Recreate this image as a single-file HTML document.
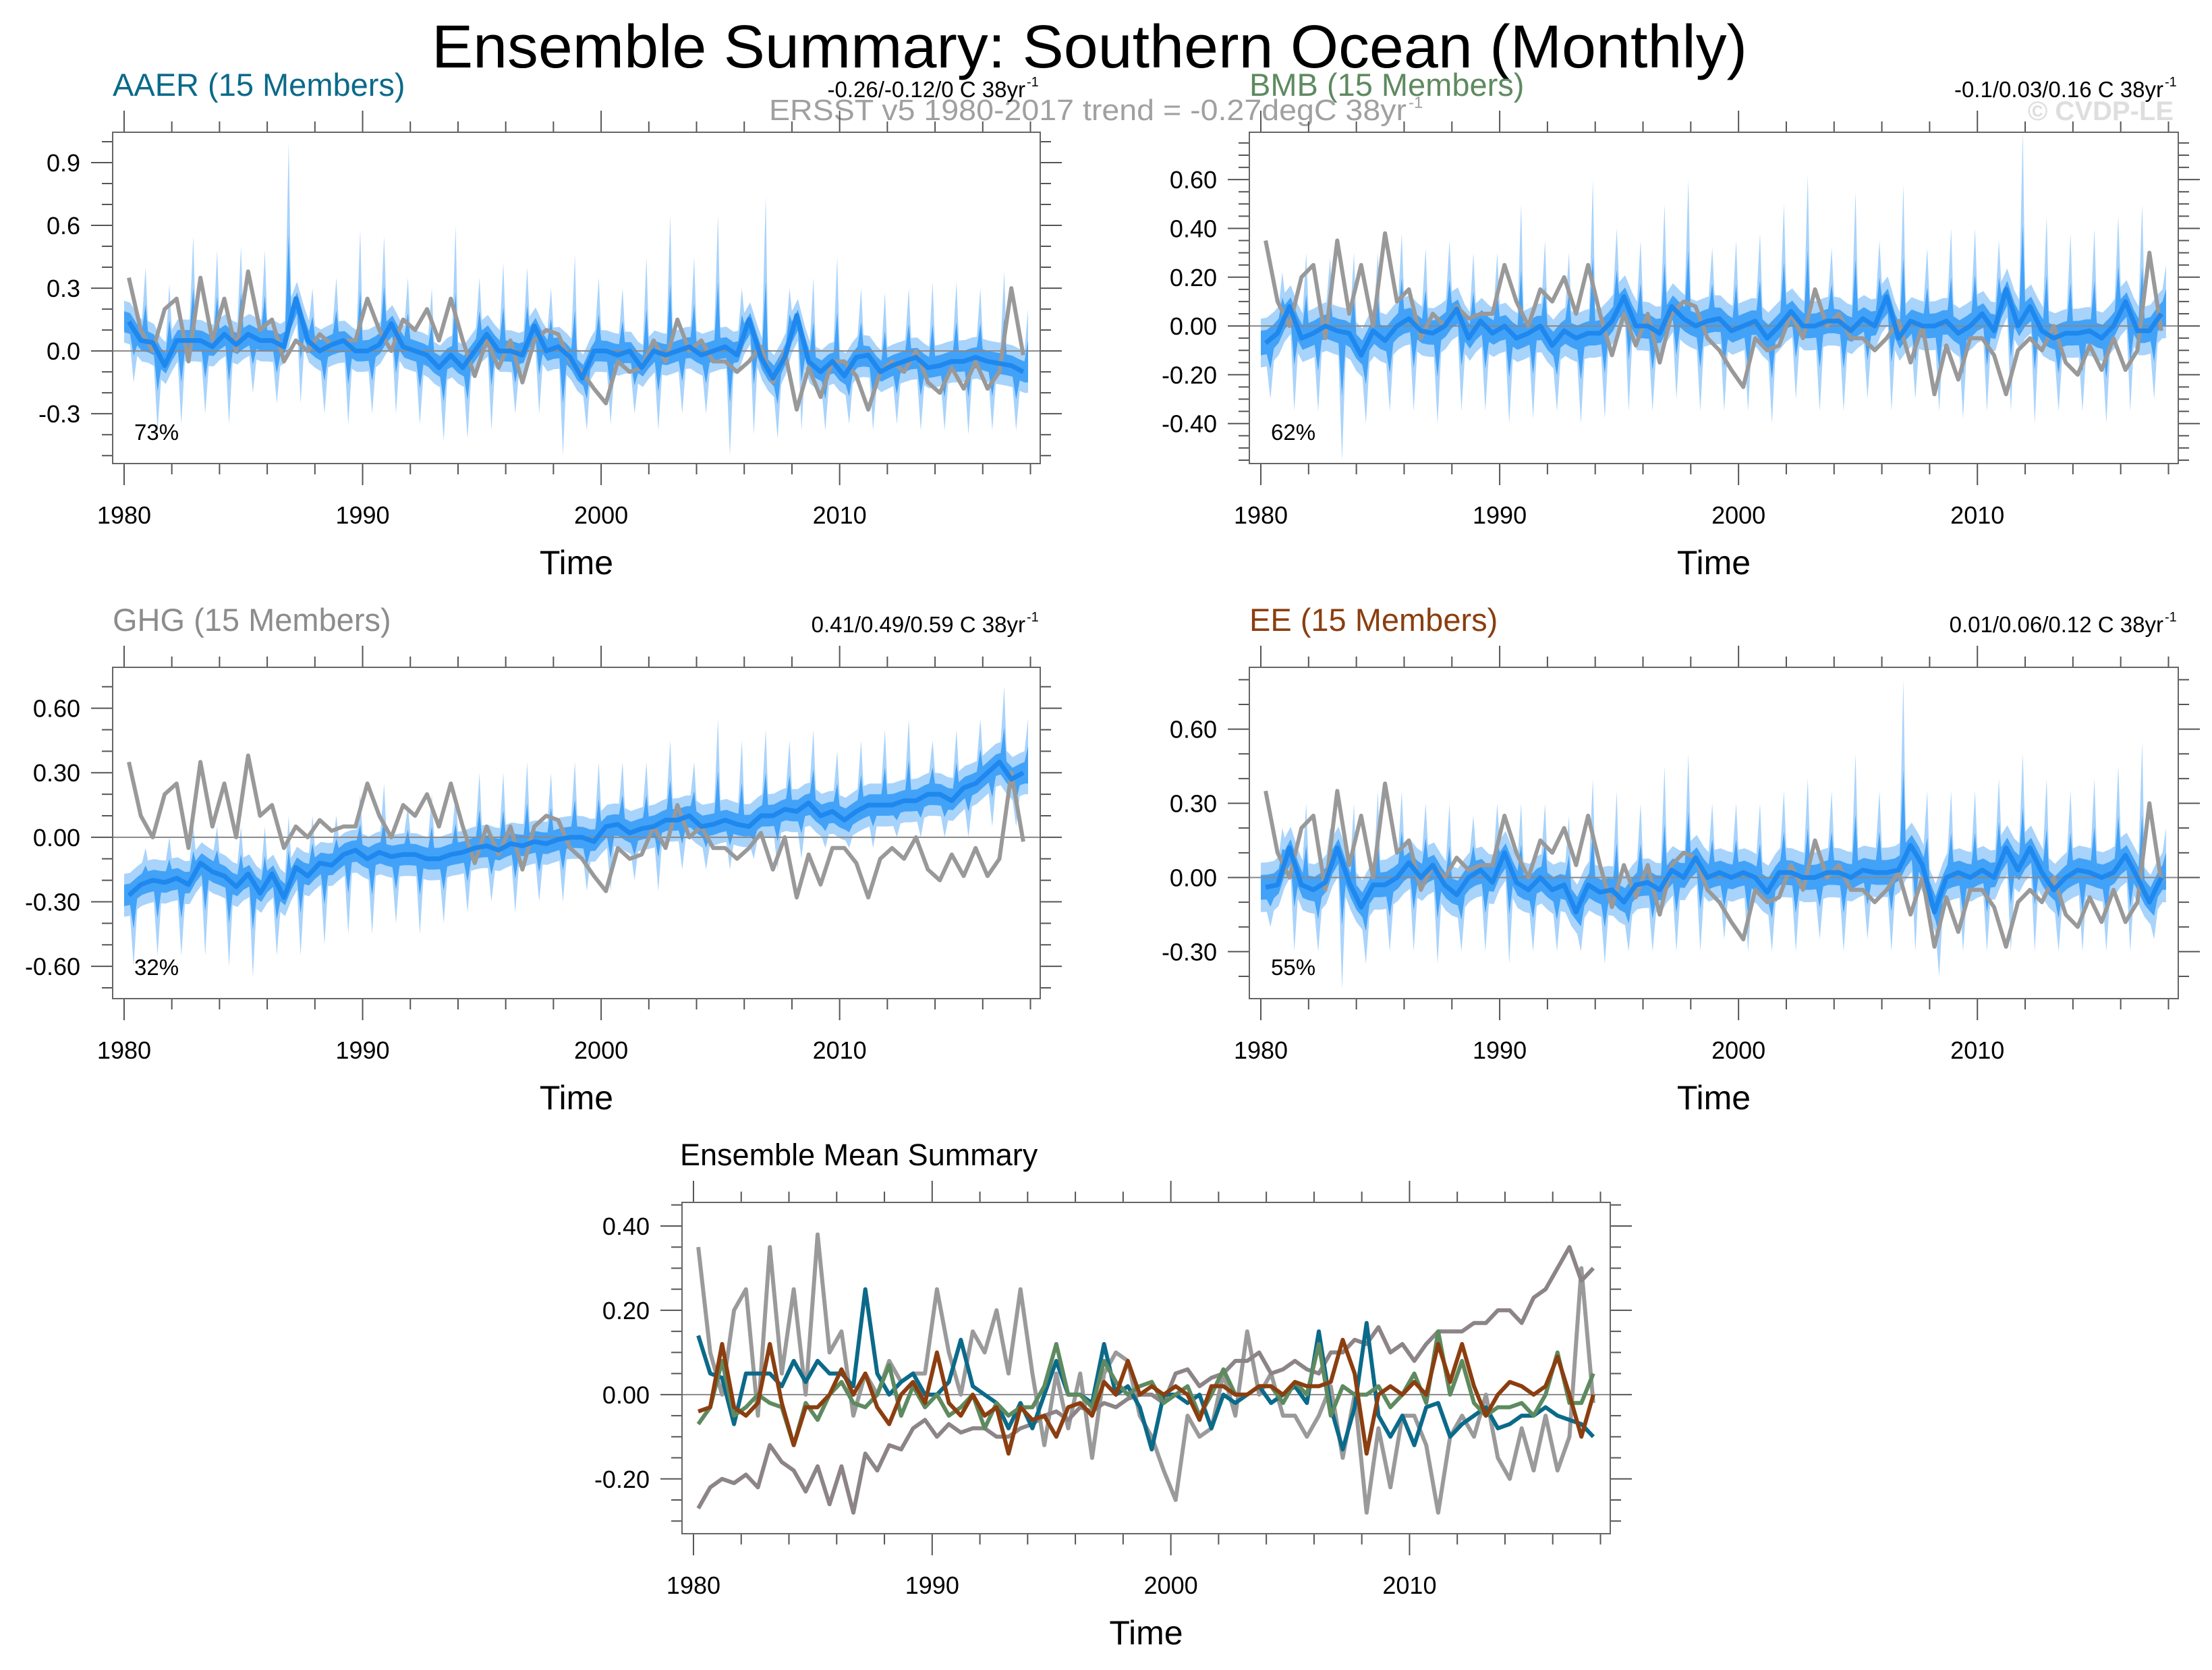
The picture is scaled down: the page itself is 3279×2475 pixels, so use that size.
<!DOCTYPE html>
<html><head><meta charset="utf-8"><style>
html,body{margin:0;padding:0;background:#fff}
svg{display:block;font-family:"Liberation Sans",sans-serif}
</style></head><body>
<svg id="chart" xmlns="http://www.w3.org/2000/svg" width="3279" height="2475" viewBox="0 0 3279 2475">
<rect width="3279" height="2475" fill="#fff"/>
<text x="640" y="100" font-size="90" textLength="1950" lengthAdjust="spacingAndGlyphs">Ensemble Summary: Southern Ocean (Monthly)</text>
<text x="1140" y="178" font-size="44" fill="#a0a0a0" textLength="945" lengthAdjust="spacingAndGlyphs">ERSST v5 1980-2017 trend = -0.27degC 38yr</text>
<text x="2088" y="160" font-size="24" fill="#a0a0a0">-1</text>
<text x="3222" y="178" font-size="40" font-weight="bold" fill="#dedede" text-anchor="end">© CVDP-LE</text>
<g id="panels"></g>
</svg>
<script>
// ---------- data (half-year samples, 1980-2017) ----------
const obsVals = [0.35,0.10,0.00,0.20,0.25,-0.05,0.35,0.05,0.25,0.00,0.38,0.10,0.15,-0.05,0.05,0.00,0.08,0.03,0.05,0.05,
0.25,0.10,0.00,0.15,0.10,0.20,0.05,0.25,0.05,-0.12,0.05,-0.08,0.05,-0.15,0.05,0.10,0.08,-0.05,-0.10,-0.18,
-0.25,-0.05,-0.10,-0.08,0.05,-0.05,0.15,0.00,0.05,-0.05,-0.05,-0.10,-0.05,0.02,-0.15,0.00,-0.28,-0.08,-0.22,-0.05,
-0.05,-0.12,-0.28,-0.10,-0.05,-0.10,0.00,-0.15,-0.20,-0.08,-0.18,-0.05,-0.18,-0.10,0.30,-0.02];
const aaerMean = [0.14,0.05,0.04,-0.07,0.05,0.05,0.05,0.02,0.08,0.03,0.08,0.05,0.05,0.02,0.25,0.05,0.00,0.03,0.05,0.00,
0.00,0.03,0.13,0.02,0.00,-0.02,-0.08,-0.02,-0.08,0.00,0.08,0.00,0.00,-0.02,0.12,0.00,0.02,-0.03,-0.13,0.00,
0.00,-0.02,0.00,-0.08,0.00,-0.02,0.00,0.02,-0.02,0.00,0.02,-0.02,0.15,-0.03,-0.13,-0.03,0.17,-0.05,-0.10,-0.05,
-0.12,-0.03,-0.02,-0.10,-0.07,-0.05,-0.03,-0.08,-0.07,-0.05,-0.05,-0.03,-0.05,-0.06,-0.07,-0.10];
const bmbMean = [-0.07,-0.03,0.08,-0.05,-0.03,0.00,-0.02,-0.03,-0.12,-0.02,-0.06,0.00,0.03,-0.02,-0.03,0.00,0.07,-0.05,0.02,-0.03,
0.00,-0.05,-0.03,0.00,-0.08,-0.02,-0.05,-0.03,-0.03,0.02,0.12,0.00,0.00,-0.03,0.08,0.03,0.00,0.02,0.03,-0.02,
0.00,0.02,-0.05,0.00,0.06,0.00,0.00,0.02,0.02,-0.02,0.03,0.00,0.12,-0.05,0.02,0.00,0.00,0.02,-0.03,0.00,
0.05,-0.02,0.15,0.00,0.08,-0.02,-0.05,-0.03,-0.03,-0.02,-0.05,0.00,0.10,-0.02,-0.02,0.05];
const ghgMean = [-0.27,-0.22,-0.20,-0.21,-0.19,-0.22,-0.12,-0.16,-0.18,-0.23,-0.17,-0.26,-0.17,-0.28,-0.14,-0.18,-0.12,-0.13,-0.08,-0.06,
-0.10,-0.07,-0.09,-0.08,-0.08,-0.10,-0.10,-0.08,-0.07,-0.05,-0.04,-0.06,-0.03,-0.04,-0.02,-0.03,-0.01,0.00,0.00,-0.02,
0.05,0.06,0.02,0.04,0.05,0.08,0.08,0.10,0.05,0.06,0.08,0.06,0.05,0.10,0.10,0.13,0.12,0.16,0.10,0.12,
0.08,0.12,0.15,0.15,0.15,0.17,0.17,0.20,0.20,0.17,0.23,0.25,0.30,0.35,0.27,0.30];
const eeMean = [-0.04,-0.03,0.12,-0.03,-0.05,-0.02,0.12,-0.02,-0.12,-0.03,-0.03,0.00,0.06,0.00,0.05,-0.03,-0.07,0.00,0.03,-0.02,
0.10,-0.02,-0.05,0.00,-0.05,-0.03,-0.14,-0.03,-0.06,-0.05,-0.10,-0.03,-0.02,-0.05,0.03,0.00,0.08,0.00,0.02,0.00,
0.02,0.00,-0.06,0.02,0.02,0.00,0.00,0.02,0.02,0.00,0.03,0.02,0.02,0.03,0.13,0.05,-0.14,0.00,0.02,0.00,
0.03,0.00,0.12,0.03,0.12,0.02,-0.05,0.00,0.03,0.02,0.00,0.02,0.09,0.00,-0.10,0.00];
// yearly spread spikes (outer envelope)
const aaerUp = [0.40,0.32,0.55,0.48,0.50,0.48,1.00,0.30,0.35,0.58,0.55,0.35,0.30,0.60,0.35,0.42,0.40,0.30,0.46,0.35,0.30,0.45,0.65,0.45,0.65,0.30,0.74,0.30,0.35,0.45,0.30,0.28,0.30,0.33,0.33,0.30,0.38,0.20];
const aaerDn = [-0.15,-0.38,-0.35,-0.30,-0.35,-0.20,-0.25,-0.25,-0.30,-0.35,-0.30,-0.30,-0.35,-0.43,-0.42,-0.38,-0.30,-0.30,-0.50,-0.38,-0.35,-0.30,-0.38,-0.30,-0.30,-0.50,-0.40,-0.42,-0.38,-0.38,-0.35,-0.38,-0.35,-0.38,-0.38,-0.40,-0.38,-0.38];
const bmbUp = [0.22,0.30,0.28,0.30,0.30,0.38,0.32,0.35,0.30,0.30,0.50,0.35,0.30,0.60,0.40,0.35,0.50,0.60,0.32,0.35,0.38,0.50,0.62,0.32,0.55,0.35,0.58,0.32,0.40,0.40,0.35,0.80,0.45,0.38,0.40,0.45,0.50,0.25];
const bmbDn = [-0.30,-0.35,-0.35,-0.55,-0.40,-0.35,-0.35,-0.40,-0.35,-0.35,-0.40,-0.38,-0.35,-0.40,-0.38,-0.35,-0.35,-0.30,-0.35,-0.35,-0.35,-0.40,-0.30,-0.35,-0.35,-0.30,-0.35,-0.30,-0.35,-0.38,-0.35,-0.35,-0.40,-0.35,-0.35,-0.40,-0.35,-0.30];
const ghgUp = [-0.05,0.00,0.05,0.05,0.05,0.05,0.10,0.10,0.10,0.20,0.25,0.15,0.20,0.20,0.30,0.30,0.35,0.30,0.35,0.35,0.35,0.35,0.45,0.35,0.55,0.45,0.50,0.45,0.50,0.40,0.45,0.50,0.55,0.45,0.50,0.55,0.70,0.55];
const ghgDn = [-0.60,-0.55,-0.55,-0.55,-0.60,-0.65,-0.55,-0.55,-0.50,-0.45,-0.45,-0.40,-0.45,-0.40,-0.35,-0.30,-0.35,-0.30,-0.30,-0.25,-0.25,-0.20,-0.25,-0.15,-0.15,-0.15,-0.10,-0.15,-0.10,-0.05,-0.05,-0.05,0.00,0.00,0.00,0.00,0.05,0.05];
const eeUp = [0.20,0.30,0.20,0.30,0.35,0.35,0.30,0.30,0.25,0.30,0.30,0.30,0.25,0.40,0.35,0.30,0.45,0.50,0.30,0.30,0.30,0.35,0.40,0.35,0.50,0.35,0.80,0.35,0.35,0.35,0.40,0.50,0.40,0.35,0.40,0.45,0.55,0.20];
const eeDn = [-0.20,-0.30,-0.30,-0.45,-0.35,-0.30,-0.30,-0.35,-0.30,-0.30,-0.35,-0.30,-0.30,-0.30,-0.35,-0.30,-0.30,-0.30,-0.30,-0.25,-0.30,-0.30,-0.30,-0.25,-0.30,-0.25,-0.30,-0.30,-0.40,-0.30,-0.30,-0.30,-0.30,-0.30,-0.30,-0.30,-0.30,-0.25];
const xTickLabels = ["1980","1990","2000","2010"];
const panelNames = ["AAER","BMB","GHG","EE"];
const trendText = ["-0.26/-0.12/0 C 38yr","-0.1/0.03/0.16 C 38yr","0.41/0.49/0.59 C 38yr","0.01/0.06/0.12 C 38yr"];
const pctText = ["73%","62%","32%","55%"];

// ---------- rendering ----------
const NS="http://www.w3.org/2000/svg";
const root=document.getElementById('panels');
function mk(tag,attrs,parent){const e=document.createElementNS(NS,tag);for(const k in attrs)e.setAttribute(k,attrs[k]);(parent||root).appendChild(e);return e;}
const halfT=i=>1980.2+i*0.5;
function interp(arr,t){let f=(t-1980.2)/0.5;if(f<=0)return arr[0];if(f>=arr.length-1)return arr[arr.length-1];const i=Math.floor(f),r=f-i;return arr[i]*(1-r)+arr[i+1]*r;}

const cfgs=[
 {x0:167,x1:1542,y0:196,y1:687,ymin:-0.538,ymax:1.045,majors:[0.9,0.6,0.3,0,-0.3],minor:0.1,dec:1,mean:aaerMean,up:aaerUp,dn:aaerDn,color:"#0b6a8a",ty:142},
 {x0:1852,x1:3229,y0:196,y1:687,ymin:-0.564,ymax:0.794,majors:[0.6,0.4,0.2,0,-0.2,-0.4],minor:0.05,dec:2,mean:bmbMean,up:bmbUp,dn:bmbDn,color:"#5e8a60",ty:142},
 {x0:167,x1:1542,y0:989,y1:1480,ymin:-0.75,ymax:0.79,majors:[0.6,0.3,0,-0.3,-0.6],minor:0.1,dec:2,mean:ghgMean,up:ghgUp,dn:ghgDn,color:"#8c8c8c",ty:935},
 {x0:1852,x1:3229,y0:989,y1:1480,ymin:-0.49,ymax:0.85,majors:[0.6,0.3,0,-0.3],minor:0.1,dec:2,mean:eeMean,up:eeUp,dn:eeDn,color:"#8b3e0f",ty:935}
];
const XMIN=1979.52,XMAX=2018.41;

function axes(g,c,name){
 const X=t=>c.x0+(t-XMIN)/(XMAX-XMIN)*(c.x1-c.x0);
 const Y=v=>c.y1-(v-c.ymin)/(c.ymax-c.ymin)*(c.y1-c.y0);
 c.X=X;c.Y=Y;
 let d="";
 for(let y=1980;y<=2018;y+=2){const maj=(y%10===0),L=maj?32:16,x=X(y);d+=`M${x},${c.y0}V${c.y0-L}M${x},${c.y1}V${c.y1+L}`;}
 const n0=Math.ceil(c.ymin/c.minor-1e-6),n1=Math.floor(c.ymax/c.minor+1e-6);
 for(let n=n0;n<=n1;n++){const v=n*c.minor,maj=c.majors.some(m=>Math.abs(m-v)<1e-6),L=maj?32:16,y=Y(v);d+=`M${c.x0},${y}H${c.x0-L}M${c.x1},${y}H${c.x1+L}`;}
 const tk=mk('path',{d,stroke:"#555","stroke-width":2,fill:"none"},g);
 
 
 xTickLabels.forEach(s=>{const t=mk('text',{x:X(+s),y:c.y1+89,"font-size":36,"text-anchor":"middle"},g);t.textContent=s;
  
  });
 c.majors.forEach(v=>{const t=mk('text',{x:c.x0-48,y:Y(v)+13,"font-size":36,"text-anchor":"end"},g);t.textContent=v.toFixed(c.dec);
  
  });
 const xt=mk('text',{x:(c.x0+c.x1)/2,y:c.y1+164,"font-size":50,"text-anchor":"middle"},g);xt.textContent="Time";
 
 
}
function linePath(arr,c){return arr.map((v,i)=>(i?"L":"M")+c.X(halfT(i)).toFixed(1)+","+c.Y(v).toFixed(1)).join("");}

cfgs.forEach((c,pi)=>{
 const name=panelNames[pi].toLowerCase()+'-panel';
 const g=mk('g',{});
 
 
 axes(g,c,name);
 const clip=mk('clipPath',{id:'clip'+pi},g);mk('rect',{x:c.x0,y:c.y0,width:c.x1-c.x0,height:c.y1-c.y0},clip);
 const pg=mk('g',{"clip-path":`url(#clip${pi})`},g);
 const ts=[],hiO=[],loO=[],hiI=[],loI=[];
 const S=0.1;
 c.up.forEach((u,j)=>{const y=1980+j;
  [[0.0,'n'],[0.25,'n'],[0.4,'d'],[0.55,'n'],[0.75,'n'],[0.9,'u']].forEach(([o,k])=>{const t=Math.min(y+o,2017.95),m=interp(c.mean,t);
   let h=m+S,l=m-S;if(k==='u')h=u;if(k==='d')l=c.dn[j];
   ts.push(t);hiO.push(h);loO.push(l);hiI.push(m+(h-m)*0.5);loI.push(m+(l-m)*0.5);});});
 const band=(hi,lo)=>{let d="";ts.forEach((t,i)=>d+=(i?"L":"M")+c.X(t).toFixed(1)+","+c.Y(hi[i]).toFixed(1));for(let i=ts.length-1;i>=0;i--)d+="L"+c.X(ts[i]).toFixed(1)+","+c.Y(lo[i]).toFixed(1);return d+"Z";};
 const bo=mk('path',{d:band(hiO,loO),fill:"#a8d3fb"},pg);
 
 
 const bi=mk('path',{d:band(hiI,loI),fill:"#42a2f8"},pg);
 
 
 mk('line',{x1:c.x0,x2:c.x1,y1:c.Y(0),y2:c.Y(0),stroke:"#888","stroke-width":2},pg);
 const ob=mk('path',{d:linePath(obsVals,c),fill:"none",stroke:"#999","stroke-width":6,"stroke-linejoin":"round"},pg);
 
 
 const ml=mk('path',{d:linePath(c.mean,c),fill:"none",stroke:"#1e88ee","stroke-width":7,"stroke-linejoin":"round"},pg);
 
 
 const bx=mk('rect',{x:c.x0,y:c.y0,width:c.x1-c.x0,height:c.y1-c.y0,fill:"none",stroke:"#666","stroke-width":2},g);
 
 
 const tt=mk('text',{x:c.x0,y:c.ty,"font-size":47,fill:c.color},g);tt.textContent=panelNames[pi]+" (15 Members)";
 
 
 const tr=mk('text',{x:c.x1-22,y:c.ty+2,"font-size":33,"text-anchor":"end"},g);tr.textContent=trendText[pi];
 
 
 const sp=mk('text',{x:c.x1-20,y:c.ty-14,"font-size":20},g);sp.textContent="-1";
 
 
 const pc=mk('text',{x:c.x0+32,y:c.y1-35,"font-size":33},g);pc.textContent=pctText[pi];
 
 
});

const s={x0:1011,x1:2387,y0:1782,y1:2273,ymin:-0.33,ymax:0.456,majors:[0.4,0.2,0,-0.2],minor:0.05,dec:2};
const sg=mk('g',{});


axes(sg,s,'summary');
const st=mk('text',{x:1008,y:1727,"font-size":45},sg);st.textContent="Ensemble Mean Summary";


mk('line',{x1:s.x0,x2:s.x1,y1:s.Y(0),y2:s.Y(0),stroke:"#888","stroke-width":2},sg);
const series=[[obsVals,"#9a9a9a","obs"],[ghgMean,"#8c8487","ghg"],[aaerMean,"#0b6a8a","aaer"],[bmbMean,"#5e8a60","bmb"],[eeMean,"#8b3e0f","ee"]];
series.forEach(([arr,col,nm])=>{const p=mk('path',{d:linePath(arr,s),fill:"none",stroke:col,"stroke-width":6,"stroke-linejoin":"round"},sg);
 
 });
const sb=mk('rect',{x:s.x0,y:s.y0,width:s.x1-s.x0,height:s.y1-s.y0,fill:"none",stroke:"#666","stroke-width":2},sg);


</script>
</body></html>
